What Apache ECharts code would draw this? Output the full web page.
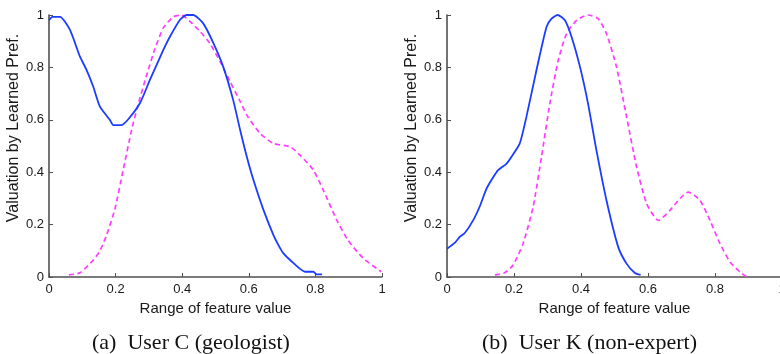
<!DOCTYPE html>
<html>
<head>
<meta charset="utf-8">
<script src="https://cdn.jsdelivr.net/npm/echarts@6/dist/echarts.min.js"></script>
<style>
  html, body { margin: 0; padding: 0; background: #fff; }
  #chart { width: 780px; height: 354px; }
</style>
</head>
<body>
<div id="chart"></div>
<script>
// Learned valuation curves over the normalised feature range, two users.
const xTickValues = [0, 0.2, 0.4, 0.6, 0.8, 1];
const yTickValues = [0, 0.2, 0.4, 0.6, 0.8, 1];

const captions = ['(a)  User C (geologist)', '(b)  User K (non-expert)'];
const xAxisTitle = 'Range of feature value';
const yAxisTitle = 'Valuation by Learned Pref.';

// User C: solid blue curve
const userCSolid = [
  [0, 0.98], [0.01, 0.993], [0.033, 0.993], [0.063, 0.943], [0.093, 0.841],
  [0.113, 0.79], [0.133, 0.726], [0.153, 0.65], [0.183, 0.599], [0.193, 0.58],
  [0.218, 0.58], [0.238, 0.602], [0.273, 0.663], [0.303, 0.752], [0.343, 0.866],
  [0.363, 0.917], [0.393, 0.981], [0.413, 1.0], [0.433, 1.0], [0.463, 0.968],
  [0.494, 0.892], [0.523, 0.803], [0.553, 0.676], [0.574, 0.561], [0.594, 0.459],
  [0.614, 0.37], [0.644, 0.256], [0.674, 0.16], [0.694, 0.11], [0.704, 0.09],
  [0.724, 0.065], [0.769, 0.02], [0.794, 0.02], [0.804, 0.01], [0.82, 0.01]
];

// User C: dashed magenta curve
const userCDashed = [
  [0.06, 0.008], [0.093, 0.016], [0.133, 0.065], [0.153, 0.1], [0.173, 0.16],
  [0.198, 0.26], [0.223, 0.41], [0.248, 0.561], [0.268, 0.66], [0.293, 0.77],
  [0.318, 0.87], [0.343, 0.95], [0.373, 0.993], [0.398, 1.0], [0.423, 0.976],
  [0.453, 0.938], [0.483, 0.892], [0.514, 0.822], [0.544, 0.745], [0.574, 0.67],
  [0.594, 0.618], [0.634, 0.548], [0.674, 0.51], [0.724, 0.497], [0.754, 0.465],
  [0.794, 0.408], [0.826, 0.325], [0.864, 0.218], [0.898, 0.14], [0.944, 0.071],
  [0.998, 0.02]
];

// User K: solid blue curve
const userKSolid = [
  [0, 0.108], [0.023, 0.13], [0.038, 0.153], [0.053, 0.168], [0.078, 0.216],
  [0.098, 0.27], [0.118, 0.337], [0.135, 0.375], [0.152, 0.407], [0.178, 0.433],
  [0.192, 0.458], [0.217, 0.509], [0.237, 0.611], [0.267, 0.789], [0.297, 0.954],
  [0.312, 0.986], [0.33, 1.0], [0.352, 0.98], [0.372, 0.916], [0.397, 0.802],
  [0.421, 0.662], [0.446, 0.484], [0.476, 0.293], [0.511, 0.115], [0.536, 0.051],
  [0.561, 0.015], [0.578, 0.008]
];

// User K: dashed magenta curve
const userKDashed = [
  [0.143, 0.008], [0.172, 0.016], [0.197, 0.045], [0.227, 0.127], [0.257, 0.267],
  [0.282, 0.458], [0.307, 0.662], [0.332, 0.827], [0.357, 0.929], [0.387, 0.98],
  [0.421, 1.0], [0.451, 0.986], [0.476, 0.929], [0.506, 0.802], [0.536, 0.611],
  [0.566, 0.42], [0.596, 0.28], [0.631, 0.216], [0.666, 0.255], [0.695, 0.299],
  [0.72, 0.324], [0.755, 0.293], [0.785, 0.216], [0.815, 0.127], [0.845, 0.057],
  [0.875, 0.019], [0.895, 0.0]
];

const SOLID_COLOR = '#1c3dff';
const DASH_COLOR = '#ff3cff';
const AXIS_COLOR = '#505050';
const TEXT_FONT = '"Liberation Sans", Arial, Helvetica, sans-serif';
const SERIF_FONT = '"Liberation Serif", "Times New Roman", Times, serif';

function xAxisFor(gridIndex) {
  return {
    gridIndex,
    type: 'value',
    min: xTickValues[0],
    max: xTickValues[xTickValues.length - 1],
    interval: xTickValues[1] - xTickValues[0],
    name: xAxisTitle,
    nameLocation: 'middle',
    nameGap: 19,
    nameTextStyle: { fontFamily: TEXT_FONT, fontSize: 15, color: '#1a1a1a' },
    axisLine: { show: true, lineStyle: { color: AXIS_COLOR, width: 1.6 } },
    axisTick: { show: true, inside: true, length: 4, lineStyle: { color: AXIS_COLOR, width: 1 } },
    axisLabel: { fontFamily: TEXT_FONT, fontSize: 13, color: '#1a1a1a', margin: 6 },
    splitLine: { show: false }
  };
}

function yAxisFor(gridIndex) {
  return {
    gridIndex,
    type: 'value',
    min: yTickValues[0],
    max: yTickValues[yTickValues.length - 1],
    interval: yTickValues[1] - yTickValues[0],
    name: yAxisTitle,
    nameLocation: 'middle',
    nameGap: 25,
    nameRotate: 90,
    nameTextStyle: {
      fontFamily: TEXT_FONT, fontSize: 16, color: '#1a1a1a',
      padding: [0, 0, 0, 36]
    },
    axisLine: { show: true, lineStyle: { color: AXIS_COLOR, width: 1.6 } },
    axisTick: { show: true, inside: true, length: 4, lineStyle: { color: AXIS_COLOR, width: 1 } },
    axisLabel: { fontFamily: TEXT_FONT, fontSize: 13, color: '#1a1a1a', margin: 5 },
    splitLine: { show: false }
  };
}

function curve(data, idx, dashed) {
  return {
    type: 'line',
    xAxisIndex: idx,
    yAxisIndex: idx,
    data,
    showSymbol: false,
    smooth: 0.2,
    clip: false,
    lineStyle: dashed
      ? { color: DASH_COLOR, width: 1.7, type: [5, 3.5] }
      : { color: SOLID_COLOR, width: 1.8 },
    emphasis: { disabled: true }
  };
}

const chart = echarts.init(document.getElementById('chart'), null, { renderer: 'canvas' });

chart.setOption({
  animation: false,
  backgroundColor: '#ffffff',
  grid: [
    { left: 49, top: 15, width: 333, height: 262, outerBoundsMode: 'none', containLabel: false },
    { left: 447, top: 15, width: 335, height: 262, outerBoundsMode: 'none', containLabel: false }
  ],
  xAxis: [xAxisFor(0), xAxisFor(1)],
  yAxis: [yAxisFor(0), yAxisFor(1)],
  series: [
    curve(userCDashed, 0, true),
    curve(userCSolid, 0, false),
    curve(userKDashed, 1, true),
    curve(userKSolid, 1, false)
  ],
  graphic: [
    {
      type: 'text', left: 92, top: 332,
      style: { text: captions[0], font: '22px ' + SERIF_FONT, fill: '#111' }
    },
    {
      type: 'text', left: 482, top: 332,
      style: { text: captions[1], font: '22px ' + SERIF_FONT, fill: '#111' }
    }
  ]
});
</script>
</body>
</html>
